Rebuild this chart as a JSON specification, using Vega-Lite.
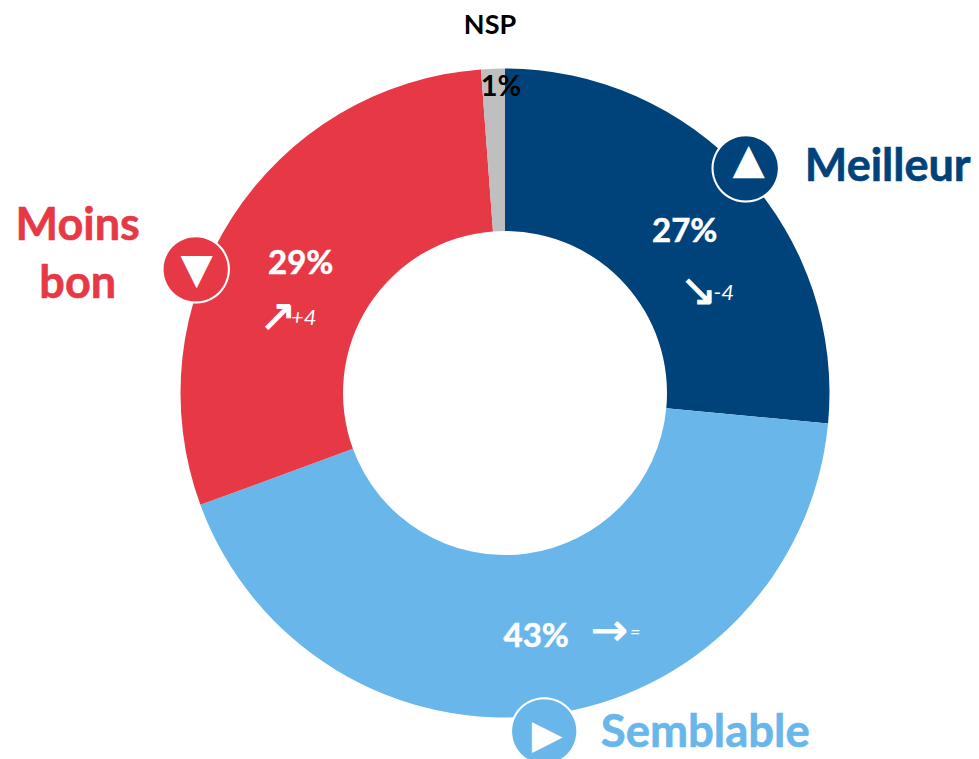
{"$schema":"https://vega.github.io/schema/vega-lite/v6.json","width":948,"height":732,"padding":{"left":31,"top":27,"right":0,"bottom":0},"autosize":"none","background":"white","view":{"stroke":null},"config":{"text":{"font":"Lato"}},"data":{"values":[{"cat":"Meilleur","ord":1,"value":26.5,"pct":"27%"},{"cat":"Semblable","ord":2,"value":42.9,"pct":"43%"},{"cat":"Moins bon","ord":3,"value":29.42,"pct":"29%"},{"cat":"NSP","ord":4,"value":1.18,"pct":"1%"}]},"encoding":{"theta":{"field":"value","type":"quantitative","stack":true,"scale":{"domain":[0,100]}},"order":{"field":"ord","type":"ordinal"}},"layer":[{"mark":{"type":"arc","outerRadius":324.5,"innerRadius":162},"encoding":{"color":{"field":"cat","type":"nominal","legend":null,"scale":{"domain":["Meilleur","Semblable","Moins bon","NSP"],"range":["#00437A","#69B7EA","#E73846","#BFBFBF"]}}}},{"mark":{"type":"text","radius":243,"dy":3,"fontSize":33,"fontWeight":"bold","fill":"white","stroke":"white","strokeWidth":0.5},"encoding":{"text":{"condition":{"test":"datum.cat!='NSP'","field":"pct"},"value":""}}},{"mark":{"type":"text","radius":243,"dx":5,"dy":-63,"fontSize":29,"fontWeight":"bold","fill":"black"},"encoding":{"text":{"condition":{"test":"datum.cat=='NSP'","field":"pct"},"value":""}}},{"mark":{"type":"text","radius":243,"dx":-6,"dy":-124,"fontSize":27,"fontWeight":"bold","fill":"black"},"encoding":{"text":{"condition":{"test":"datum.cat=='NSP'","field":"cat"},"value":""}}},{"mark":{"type":"text","radius":243,"dx":203,"dy":-62,"fontSize":45,"fontWeight":"bold","fill":"#00437A","stroke":"#00437A","strokeWidth":0.6},"encoding":{"text":{"condition":{"test":"datum.cat=='Meilleur'","field":"cat"},"value":""}}},{"mark":{"type":"text","radius":243,"dx":169,"dy":99,"fontSize":45.5,"fontWeight":"bold","fill":"#69B7EA","stroke":"#69B7EA","strokeWidth":0.6},"encoding":{"text":{"condition":{"test":"datum.cat=='Semblable'","field":"cat"},"value":""}}},{"mark":{"type":"text","radius":243,"dx":-223,"dy":-35,"fontSize":45,"fontWeight":"bold","lineHeight":58,"lineBreak":" ","fill":"#E73846","stroke":"#E73846","strokeWidth":0.6},"encoding":{"text":{"condition":{"test":"datum.cat=='Moins bon'","field":"cat"},"value":""}}},{"mark":{"type":"text","radius":243,"dx":61,"dy":-64,"fontSize":87,"font":"DejaVu Sans","fill":"#00437A","stroke":"white","strokeWidth":2},"encoding":{"text":{"condition":{"test":"datum.cat=='Meilleur'","value":"●"},"value":""}}},{"mark":{"type":"text","radius":243,"dx":8,"dy":94,"fontSize":87,"font":"DejaVu Sans","fill":"#69B7EA","stroke":"white","strokeWidth":2},"encoding":{"text":{"condition":{"test":"datum.cat=='Semblable'","value":"●"},"value":""}}},{"mark":{"type":"text","radius":243,"dx":-105,"dy":5,"fontSize":87,"font":"DejaVu Sans","fill":"#E73846","stroke":"white","strokeWidth":2},"encoding":{"text":{"condition":{"test":"datum.cat=='Moins bon'","value":"●"},"value":""}}},{"mark":{"type":"text","radius":243,"dx":64,"dy":-69,"fontSize":42,"font":"DejaVu Sans","fill":"white"},"encoding":{"text":{"condition":{"test":"datum.cat=='Meilleur'","value":"▲"},"value":""}}},{"mark":{"type":"text","radius":243,"dx":11,"dy":102,"fontSize":40,"font":"DejaVu Sans","fill":"white"},"encoding":{"text":{"condition":{"test":"datum.cat=='Semblable'","value":"▶"},"value":""}}},{"mark":{"type":"text","radius":243,"dx":-104,"dy":9,"fontSize":42,"font":"DejaVu Sans","fill":"white"},"encoding":{"text":{"condition":{"test":"datum.cat=='Moins bon'","value":"▼"},"value":""}}},{"mark":{"type":"text","radius":243,"dx":54,"dy":35,"fontSize":44,"font":"DejaVu Sans","fill":"white","stroke":"white","strokeWidth":1,"angle":45},"encoding":{"text":{"condition":{"test":"datum.cat=='Meilleur'","value":"→"},"value":""}}},{"mark":{"type":"text","radius":243,"dx":73,"dy":-2,"fontSize":44,"font":"DejaVu Sans","fill":"white","stroke":"white","strokeWidth":1},"encoding":{"text":{"condition":{"test":"datum.cat=='Semblable'","value":"→"},"value":""}}},{"mark":{"type":"text","radius":243,"dx":-55,"dy":24,"fontSize":44,"font":"DejaVu Sans","fill":"white","stroke":"white","strokeWidth":1,"angle":-45},"encoding":{"text":{"condition":{"test":"datum.cat=='Moins bon'","value":"→"},"value":""}}},{"mark":{"type":"text","radius":243,"dx":39,"dy":64,"fontSize":22,"fontStyle":"italic","fill":"white"},"encoding":{"text":{"condition":{"test":"datum.cat=='Meilleur'","value":"-4"},"value":""}}},{"mark":{"type":"text","radius":243,"dx":99,"dy":-1,"fontSize":18,"fontStyle":"italic","fill":"white"},"encoding":{"text":{"condition":{"test":"datum.cat=='Semblable'","value":"="},"value":""}}},{"mark":{"type":"text","radius":243,"dx":3,"dy":57,"fontSize":22,"fontStyle":"italic","fill":"white"},"encoding":{"text":{"condition":{"test":"datum.cat=='Moins bon'","value":"+4"},"value":""}}}]}
